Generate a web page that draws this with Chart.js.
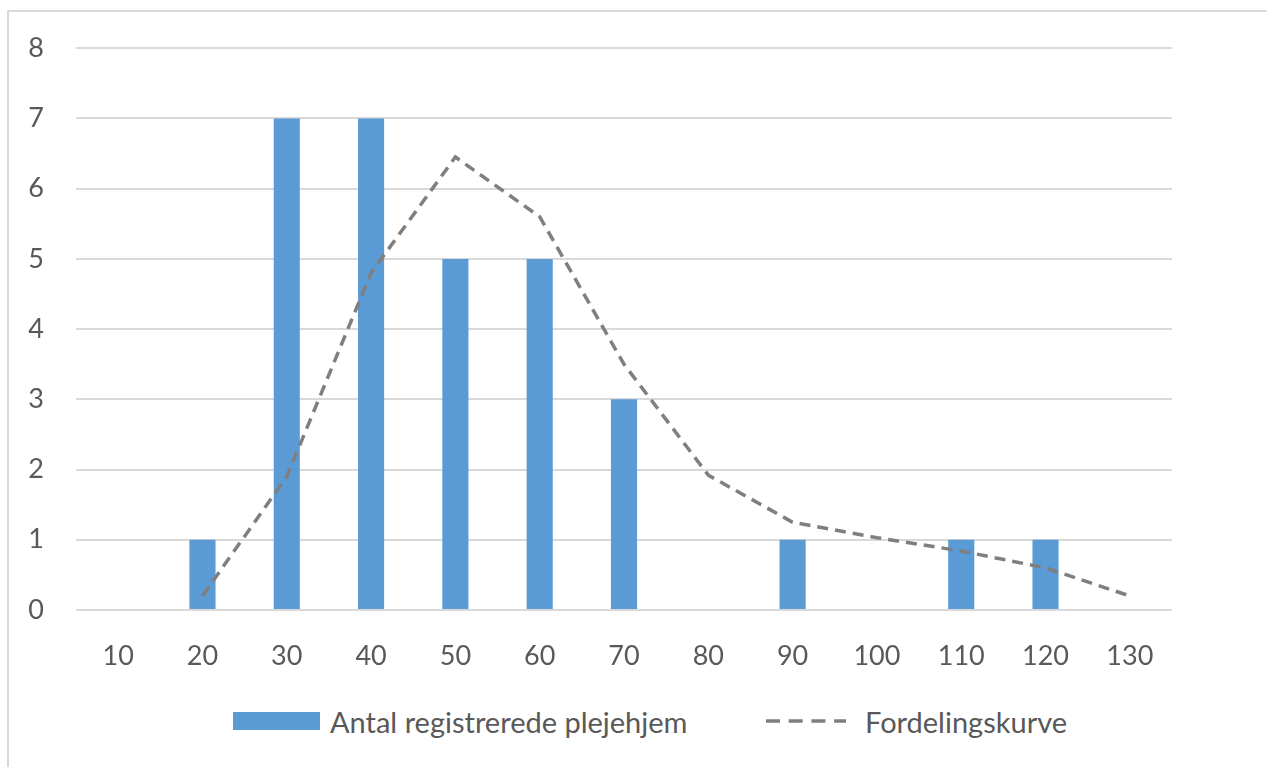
<!DOCTYPE html>
<html>
<head>
<meta charset="utf-8">
<script src="https://cdn.jsdelivr.net/npm/chart.js@4/dist/chart.umd.min.js"></script>
<style>
  html, body { margin: 0; padding: 0; background: #fff; }
  body { width: 1267px; height: 767px; position: relative; overflow: hidden; font-family: Lato, sans-serif; }
  .frame { position: absolute; left: 7px; top: 10px; width: 1300px; height: 800px; border-left: 2px solid #d9d9d9; border-top: 2px solid #d9d9d9; box-sizing: border-box; }
  #chart { position: absolute; left: 0; top: 0; }
  .legend { position: absolute; top: 704px; left: 0; height: 34px; font-size: 29px; color: #595959; }
  .legend .item { position: absolute; top: 0; white-space: nowrap; display: flex; align-items: center; height: 34px; }
  .swatch-bar { display: inline-block; width: 87px; height: 18px; background: #5b9bd5; margin-right: 10px; }
  .swatch-line { display: inline-block; width: 80px; height: 4px; margin-right: 19px; }
</style>
</head>
<body>
<div class="frame"></div>
<canvas id="chart" width="1267" height="700"></canvas>
<div class="legend">
  <div class="item" style="left:233px"><span class="swatch-bar"></span><span>Antal registrerede plejehjem</span></div>
  <div class="item" style="left:766px"><svg class="swatch-line" width="80" height="4"><line x1="0" y1="2" x2="80" y2="2" stroke="#7f7f7f" stroke-width="3.5" stroke-dasharray="14,8.7"/></svg><span>Fordelingskurve</span></div>
</div>
<script>
// data
const categories = ['10', '20', '30', '40', '50', '60', '70', '80', '90', '100', '110', '120', '130'];
const antalPlejehjem = [0, 1, 7, 7, 5, 5, 3, 0, 1, 0, 1, 1, 0];
const fordelingskurve = [null, 0.2, 1.9, 4.8, 6.45, 5.6, 3.5, 1.92, 1.25, 1.03, 0.84, 0.6, 0.2];
const yTicks = [0, 1, 2, 3, 4, 5, 6, 7, 8];

const font = { family: 'Lato, sans-serif', size: 27 };

new Chart(document.getElementById('chart'), {
  type: 'bar',
  data: {
    labels: categories,
    datasets: [
      {
        type: 'line',
        label: 'Fordelingskurve',
        data: fordelingskurve,
        borderColor: '#7f7f7f',
        borderWidth: 3.5,
        borderDash: [11, 7],
        pointRadius: 0,
        fill: false,
        tension: 0,
        order: 0
      },
      {
        label: 'Antal registrerede plejehjem',
        data: antalPlejehjem,
        backgroundColor: '#5b9bd5',
        barPercentage: 0.31,
        categoryPercentage: 1,
        order: 1
      }
    ]
  },
  options: {
    responsive: false,
    animation: false,
    layout: { padding: { top: 48, right: 95, left: 0, bottom: 0 } },
    plugins: { legend: { display: false }, tooltip: { enabled: false } },
    scales: {
      x: {
        grid: { display: false, drawTicks: false },
        border: { display: false },
        ticks: { color: '#595959', font: font, padding: 30, maxRotation: 0 },
        afterFit: s => { s.height = 90; }
      },
      y: {
        min: 0,
        max: 8,
        afterBuildTicks: s => { s.ticks = yTicks.map(v => ({ value: v })); },
        grid: { color: '#d9d9d9', lineWidth: 2, drawTicks: false },
        border: { display: false },
        ticks: { color: '#595959', font: font, padding: 32 },
        afterFit: s => { s.width = 76; }
      }
    }
  }
});
</script>
</body>
</html>
